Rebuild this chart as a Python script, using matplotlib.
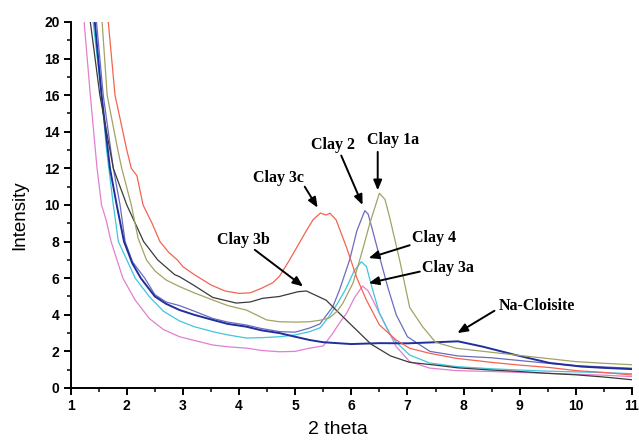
import matplotlib
matplotlib.use("Agg")
import matplotlib.pyplot as plt
from matplotlib.ticker import MultipleLocator

# XRD patterns: 2-theta vs intensity for each clay sample
clay3a_x = [1.24, 1.35, 1.47, 1.55, 1.63, 1.72, 1.93, 2.15, 2.4, 2.65, 2.94, 3.2, 3.53, 3.8,
            4.13, 4.4, 4.72, 5.0, 5.26, 5.5, 5.65, 5.8, 5.92, 6.05, 6.2, 6.3, 6.4, 6.56, 6.8,
            7.04, 7.39, 7.87, 8.5, 9.0, 9.5, 10.0, 10.5, 11.0]
clay3a_y = [20, 16, 12, 10, 9.2, 8, 6, 4.8, 3.8, 3.2, 2.8, 2.6, 2.35, 2.25,
            2.18, 2.05, 1.98, 2.0, 2.18, 2.3, 2.9, 3.6, 4.1, 4.9, 5.57, 5.3, 4.7, 3.72, 2.26,
            1.44, 1.09, 0.95, 0.9, 0.85, 0.8, 0.75, 0.7, 0.62]

clay4_x = [1.40, 1.55, 1.64, 1.76, 1.85, 2.0, 2.15, 2.4, 2.65, 2.94, 3.2, 3.53, 3.8, 4.13,
           4.4, 4.72, 5.0, 5.26, 5.45, 5.6, 5.75, 5.9, 6.05, 6.18, 6.27, 6.38, 6.5, 6.68,
           6.8, 7.04, 7.39, 7.87, 8.5, 9.0, 9.5, 10.0, 10.5, 11.0]
clay4_y = [20, 16, 13, 10, 8, 7, 6, 5.0, 4.2, 3.66, 3.35, 3.08, 2.9, 2.73,
           2.75, 2.80, 2.9, 3.08, 3.3, 3.9, 4.6, 5.4, 6.4, 6.9, 6.63, 5.36, 4.1, 3.0,
           2.5, 1.8, 1.37, 1.17, 1.05, 0.98, 0.92, 0.88, 0.84, 0.78]

nacloisite_x = [1.43, 1.55, 1.70, 1.82, 1.95, 2.1, 2.25, 2.5, 2.7, 2.94, 3.2, 3.53, 3.8, 4.13,
                4.4, 4.72, 5.0, 5.26, 5.5, 6.0, 6.5, 7.0, 7.5, 7.9, 8.34, 8.93, 9.53, 10.1,
                10.5, 11.0]
nacloisite_y = [20, 16, 12, 10, 8, 6.8, 6.0, 5.0, 4.6, 4.26, 4.0, 3.72, 3.5, 3.35,
                3.15, 3.0, 2.8, 2.62, 2.5, 2.4, 2.45, 2.44, 2.5, 2.55, 2.26, 1.8, 1.37, 1.17,
                1.1, 1.03]

clay2_x = [1.46, 1.58, 1.76, 1.88, 1.97, 2.1, 2.32, 2.5, 2.7, 2.94, 3.2, 3.53, 3.8, 4.13,
           4.4, 4.72, 5.0, 5.26, 5.44, 5.67, 5.79, 5.97, 6.1, 6.24, 6.3, 6.38, 6.5, 6.65,
           6.8, 7.0, 7.4, 7.9, 8.5, 9.0, 9.5, 10.0, 10.5, 11.0]
clay2_y = [20, 16, 12, 10, 8, 6.9, 6.0, 5.1, 4.7, 4.5, 4.2, 3.8, 3.6, 3.44,
           3.25, 3.08, 3.05, 3.28, 3.5, 4.44, 5.36, 7.0, 8.6, 9.69, 9.5, 8.6, 7.2, 5.5,
           4.0, 2.8, 2.0, 1.75, 1.65, 1.5, 1.35, 1.22, 1.15, 1.08]

clay3b_x = [1.35, 1.52, 1.76, 2.0, 2.15, 2.3, 2.55, 2.85, 2.94, 3.2, 3.53, 3.95, 4.2, 4.42,
            4.72, 5.05, 5.2, 5.55, 5.97, 6.35, 6.7, 7.04, 7.5, 7.9, 8.5, 9.0, 9.5, 10.0,
            10.5, 11.0]
clay3b_y = [20, 16, 12, 10, 9, 8, 7, 6.2, 6.08, 5.6, 4.95, 4.64, 4.7, 4.9,
            5.0, 5.26, 5.3, 4.8, 3.53, 2.4, 1.75, 1.4, 1.25, 1.1, 0.98, 0.9, 0.8, 0.72,
            0.6, 0.45]

clay1a_x = [1.56, 1.65, 1.84, 1.91, 2.08, 2.2, 2.35, 2.5, 2.7, 2.94, 3.2, 3.53, 3.8, 4.13,
            4.49, 4.72, 5.0, 5.26, 5.44, 5.61, 5.75, 5.85, 6.03, 6.2, 6.33, 6.5, 6.6, 6.68,
            6.86, 7.04, 7.27, 7.5, 7.87, 8.5, 8.93, 9.53, 10.0, 10.5, 11.0]
clay1a_y = [20, 16, 13, 12, 10, 8.2, 7.0, 6.4, 5.9, 5.54, 5.2, 4.81, 4.5, 4.26,
            3.72, 3.62, 3.6, 3.62, 3.7, 3.83, 4.2, 4.64, 5.73, 7.54, 9.0, 10.64, 10.3, 9.36,
            7.0, 4.4, 3.35, 2.5, 2.17, 1.95, 1.8, 1.6, 1.44, 1.35, 1.27]

clay3c_x = [1.67, 1.79, 2.0, 2.08, 2.13, 2.18, 2.29, 2.45, 2.59, 2.75, 2.9, 3.0, 3.2, 3.5,
            3.75, 4.0, 4.2, 4.4, 4.6, 4.72, 4.9, 5.05, 5.2, 5.32, 5.45, 5.55, 5.62, 5.73,
            5.91, 6.1, 6.27, 6.5, 6.8, 7.04, 7.39, 7.87, 8.5, 9.0, 9.53, 10.0, 10.5, 11.0]
clay3c_y = [20, 16, 13, 12, 11.8, 11.6, 10, 9, 8, 7.4, 7.0, 6.63, 6.2, 5.63,
            5.3, 5.17, 5.2, 5.45, 5.75, 6.1, 7.0, 7.8, 8.6, 9.2, 9.56, 9.45, 9.55, 9.18,
            7.72, 6.0, 4.8, 3.45, 2.62, 2.17, 1.9, 1.62, 1.4, 1.25, 1.12, 0.95, 0.85, 0.71]

series = [
    (clay3a_x, clay3a_y, "#e27fcf", 0.9),
    (clay4_x, clay4_y, "#3fc6dc", 0.9),
    (clay2_x, clay2_y, "#6b6bc0", 0.9),
    (nacloisite_x, nacloisite_y, "#1f2f9c", 1.4),
    (clay3b_x, clay3b_y, "#3a3a3a", 0.9),
    (clay1a_x, clay1a_y, "#a3a265", 0.9),
    (clay3c_x, clay3c_y, "#f2654f", 0.9),
]

# Labels with arrow: text, text position, arrow tail, arrow tip (data coords)
labels = [
    ("Clay 3c", (4.71, 11.5), (5.17, 11.0), (5.40, 9.85)),
    ("Clay 2", (5.67, 13.3), (5.82, 12.7), (6.20, 10.0)),
    ("Clay 1a", (6.74, 13.55), (6.47, 12.9), (6.47, 10.8)),
    ("Clay 3b", (4.07, 8.1), (4.28, 7.55), (5.14, 5.55)),
    ("Clay 4", (7.47, 8.2), (7.04, 7.8), (6.31, 7.1)),
    ("Clay 3a", (7.72, 6.56), (7.22, 6.36), (6.31, 5.73)),
    ("Na-Cloisite", (9.30, 4.48), (8.55, 4.22), (7.89, 3.0)),
]

fig = plt.figure(figsize=(6.39, 4.42), dpi=100)
ax = fig.add_axes([0.1106, 0.1222, 0.8784, 0.8281])

for xs, ys, color, lw in series:
    ax.plot(xs, ys, color=color, lw=lw)

ax.set_xlim(1, 11)
ax.set_ylim(0, 20)
ax.xaxis.set_major_locator(MultipleLocator(1))
ax.xaxis.set_minor_locator(MultipleLocator(0.5))
ax.yaxis.set_major_locator(MultipleLocator(2))
ax.yaxis.set_minor_locator(MultipleLocator(1))

for side in ("top", "right"):
    ax.spines[side].set_visible(False)
for side in ("left", "bottom"):
    ax.spines[side].set_linewidth(1.4)
ax.tick_params(which="major", direction="out", length=5, width=1.4, pad=3)
ax.tick_params(which="minor", direction="out", length=3, width=1.1)
for lab in ax.get_xticklabels() + ax.get_yticklabels():
    lab.set_family("Liberation Sans")
    lab.set_fontweight("bold")
    lab.set_fontsize(10)

for text, tpos, tail, tip in labels:
    ax.text(tpos[0], tpos[1], text, ha="center", va="center",
            family="Liberation Serif", fontweight="bold", fontsize=11.5)
    ax.annotate("", xy=tip, xytext=tail,
                arrowprops=dict(arrowstyle="-|>,head_length=0.6,head_width=0.25",
                                color="black", lw=1.4, shrinkA=0, shrinkB=0))

fig.text(338 / 639, 1 - 430 / 442, "2 theta", ha="center", va="center",
         family="Liberation Sans", fontsize=14)
fig.text(20 / 639, 1 - 215 / 442, "Intensity", ha="center", va="center",
         rotation=90, family="Liberation Sans", fontsize=13.5)

fig.savefig("out.png", dpi=100)
